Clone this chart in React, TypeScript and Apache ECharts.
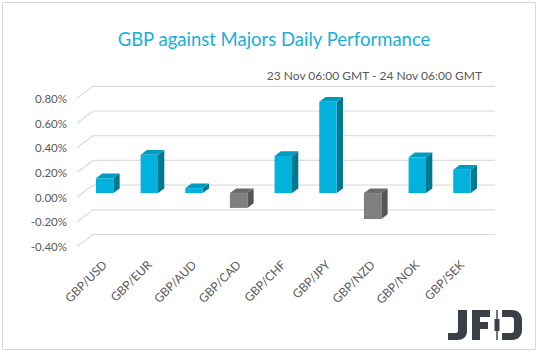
import React, { useEffect, useRef } from "react";
import * as echarts from "echarts";

const categories = ["GBP/USD", "GBP/EUR", "GBP/AUD", "GBP/CAD", "GBP/CHF", "GBP/JPY", "GBP/NZD", "GBP/NOK", "GBP/SEK"];
const values = [0.12, 0.31, 0.04, -0.12, 0.3, 0.74, -0.21, 0.29, 0.19];
const yTicks = [-0.4, -0.2, 0, 0.2, 0.4, 0.6, 0.8];
const titleText = "GBP against Majors Daily Performance";
const subtitleText = "23 Nov 06:00 GMT - 24 Nov 06:00 GMT";

const LOGO_D =
  "M10 0 H19 V21 C19 27 15 30 9 30 H0 V23 H8 C9.5 23 10 22 10 20 Z " +
  "M24 0 H42 V7 H32 V12 H40 V19 H32 V30 H24 Z " +
  "M48.3 0 H49.7 V9 H51.5 V21 H49.7 V30 H48.3 V21 H46.5 V9 H48.3 Z " +
  "M54 0 H64 C70 0 74 4 74 10 V20 C74 26 70 30 64 30 H54 V23 H63 C65 23 66 22 66 20 V10 C66 8 65 7 63 7 H54 Z";

let registered = false;

export default function App() {
  const ref = useRef<HTMLDivElement>(null);
  useEffect(() => {
    document.body.style.margin = "0";
    if (!registered) {
      echarts.graphic.registerShape("logo", echarts.graphic.extendPath(LOGO_D as any, {}) as any);
      registered = true;
    }
    const chart = echarts.init(ref.current!, null, { renderer: "svg" });
    const FONT = "Lato";
    const WALL_DX = 16, WALL_DY = 12;
    const BAR_DX = 6.3, BAR_DY = 4.7;
    const cyan = { front: "#00b2dc", top: "#009bbf", side: "#00788f" };
    const gray = { front: "#7f7f7f", top: "#6b6b6b", side: "#545454" };

    const option: any = {
      animation: false,
      textStyle: { fontFamily: FONT },
      grid: [
        { left: 77, width: 402, top: 98.3, height: 148.2 },
        { left: 82.3, width: 402, top: 94.3, height: 148.2 },
      ],
      xAxis: [
        { type: "category", gridIndex: 0, data: categories, show: false },
        {
          type: "category",
          gridIndex: 1,
          data: categories,
          axisLine: { show: false },
          axisTick: { show: false },
          axisLabel: { rotate: 45, margin: 20, color: "#595959", fontSize: 12, fontFamily: FONT, interval: 0 },
        },
      ],
      yAxis: [
        {
          type: "value",
          gridIndex: 0,
          min: -0.4,
          max: 0.8,
          interval: 0.2,
          splitLine: { show: false },
          axisLine: { show: false },
          axisTick: { show: false },
          axisLabel: {
            margin: 10,
            color: "#595959",
            fontSize: 11.5,
            fontFamily: FONT,
            formatter: (v: number) => v.toFixed(2) + "%",
          },
        },
        { type: "value", gridIndex: 1, min: -0.4, max: 0.8, interval: 0.2, show: false, splitLine: { show: false } },
      ],
      series: [
        {
          type: "custom",
          xAxisIndex: 0,
          yAxisIndex: 0,
          z: 1,
          data: yTicks.map((t) => [0, t]),
          renderItem: (params: any, api: any) => {
            const cs = params.coordSys;
            const y = api.coord([0, api.value(1)])[1];
            return {
              type: "polyline",
              shape: {
                points: [
                  [cs.x, y],
                  [cs.x + WALL_DX, y - WALL_DY],
                  [cs.x + cs.width + WALL_DX, y - WALL_DY],
                ],
              },
              style: { stroke: "#dcdcdc", lineWidth: 1.2, fill: "none" },
            };
          },
        },
        {
          type: "custom",
          xAxisIndex: 1,
          yAxisIndex: 1,
          z: 5,
          data: values.map((v, i) => [i, v]),
          renderItem: (params: any, api: any) => {
            const idx = api.value(0);
            const v = api.value(1);
            const p0 = api.coord([idx, 0]);
            const p1 = api.coord([idx, v]);
            const w = api.size([1, 0])[0] * 0.39;
            const xl = p0[0] - w / 2;
            const xr = p0[0] + w / 2;
            const yTop = Math.min(p0[1], p1[1]);
            const yBot = Math.max(p0[1], p1[1]);
            const c = v < 0 ? gray : cyan;
            return {
              type: "group",
              children: [
                {
                  type: "polygon",
                  shape: { points: [[xr, yTop], [xr + BAR_DX, yTop - BAR_DY], [xr + BAR_DX, yBot - BAR_DY], [xr, yBot]] },
                  style: { fill: c.side },
                },
                {
                  type: "polygon",
                  shape: { points: [[xl, yTop], [xl + BAR_DX, yTop - BAR_DY], [xr + BAR_DX, yTop - BAR_DY], [xr, yTop]] },
                  style: { fill: c.top },
                },
                { type: "rect", shape: { x: xl, y: yTop, width: w, height: yBot - yTop }, style: { fill: c.front } },
              ],
            };
          },
        },
      ],
      graphic: [
        {
          type: "rect",
          shape: { x: 2.5, y: 2.5, width: 533, height: 347 },
          style: { fill: "none", stroke: "#d9d9d9", lineWidth: 1 },
          z: 0,
        },
        {
          type: "text",
          x: 274,
          y: 39,
          style: { text: titleText, fill: "#17afd9", fontSize: 18.5, fontFamily: FONT, textAlign: "center", textVerticalAlign: "middle" },
        },
        {
          type: "text",
          x: 482,
          y: 75,
          style: { text: subtitleText, fill: "#595959", fontSize: 12, fontFamily: FONT, textAlign: "right", textVerticalAlign: "middle" },
        },
        {
          type: "logo",
          x: 448,
          y: 310,
          scaleX: 1,
          scaleY: 1,
          style: { fill: "#3a3f48" },
        },
      ],
    };
    chart.setOption(option);
    return () => chart.dispose();
  }, []);
  return <div ref={ref} style={{ width: 539, height: 354 }} />;
}
